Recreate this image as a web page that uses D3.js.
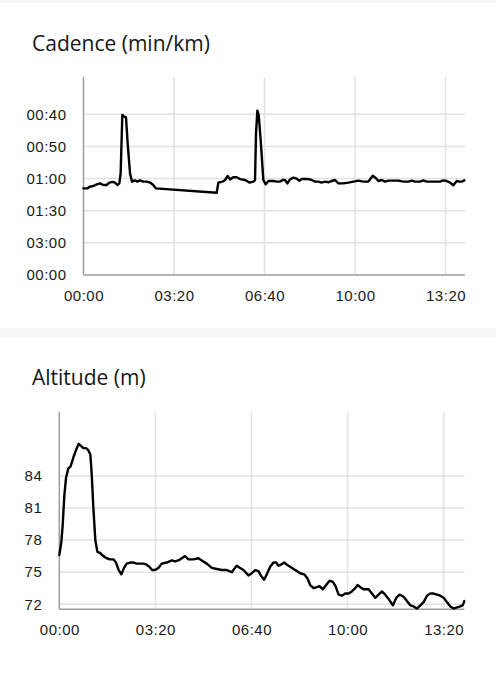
<!DOCTYPE html>
<html>
<head>
<meta charset="utf-8">
<script src="https://cdn.jsdelivr.net/npm/d3@7"></script>
<style>
  html, body { margin: 0; padding: 0; background: #ffffff; }
  svg { display: block; }
</style>
</head>
<body>
<script>
// ---- Data ----
// Cadence chart: time (s) and speed-like value (axis labelled as pace)
const cadenceTime = [0, 8.5, 14.4, 21.7, 29.1, 36.5, 43.8, 51.2, 57.1, 64.5, 69.6, 74.8, 79.2, 82.1, 85.8, 90.2, 93.9, 97.6, 102.8, 107.2, 113.8, 119.0, 124.9, 132.2, 139.6, 147.0, 154.3, 159.5, 294.3, 298.0, 307.6, 312.7, 318.6, 323.8, 331.1, 338.5, 345.9, 356.9, 366.5, 375.3, 379.0, 381.2, 384.2, 387.1, 391.5, 397.4, 402.6, 408.5, 419.5, 426.9, 434.3, 440.2, 445.3, 450.5, 456.4, 463.8, 471.1, 477.0, 482.2, 489.5, 496.9, 504.2, 511.6, 519.0, 526.3, 533.7, 541.1, 548.4, 555.8, 563.2, 574.2, 585.3, 596.4, 607.4, 618.4, 629.5, 639.1, 646.4, 651.6, 659.0, 666.3, 673.7, 684.7, 695.8, 706.8, 717.9, 725.2, 732.6, 743.6, 751.0, 758.4, 773.1, 787.8, 795.2, 802.6, 810.0, 817.3, 824.7, 830.6, 835.7, 841.6];
const cadenceValue = [53.9, 53.9, 55.0, 55.4, 56.4, 57.0, 56.0, 56.0, 57.5, 57.9, 57.5, 56.0, 57.0, 63.3, 99.6, 98.5, 98.1, 81.9, 63.3, 58.1, 58.9, 58.1, 58.9, 58.1, 58.1, 57.5, 56.0, 53.9, 51.2, 57.5, 58.1, 59.1, 61.6, 59.5, 60.8, 60.8, 59.7, 59.1, 57.5, 58.1, 59.1, 88.2, 102.3, 99.6, 84.0, 59.1, 56.4, 58.5, 58.5, 58.1, 58.1, 59.1, 59.1, 57.0, 59.5, 60.6, 59.9, 58.7, 59.7, 59.7, 59.7, 59.1, 58.1, 58.1, 57.5, 58.1, 57.7, 58.5, 59.1, 57.0, 57.0, 57.5, 58.1, 58.7, 58.1, 58.1, 61.8, 60.2, 58.5, 59.1, 58.1, 58.7, 58.7, 58.7, 58.1, 58.1, 58.7, 58.1, 58.1, 58.9, 58.1, 58.1, 58.1, 58.9, 58.5, 57.5, 55.8, 58.5, 58.1, 58.1, 58.9];
const cadenceTicks = [0, 20, 40, 60, 80, 100];
const cadenceTickLabels = ["00:00", "03:00", "01:30", "01:00", "00:50", "00:40"];

// Altitude chart: time (s) and altitude (m)
const altitudeTime = [0, 4.2, 6.9, 10.4, 13.9, 18.8, 23.6, 29.2, 34.7, 40.3, 45.1, 50.0, 55.6, 60.4, 64.6, 67.4, 70.8, 75.0, 79.2, 84.7, 91.7, 98.6, 105.6, 112.5, 118.1, 123.6, 129.2, 134.7, 140.3, 147.2, 154.2, 161.1, 168.1, 175.0, 181.9, 187.5, 193.1, 199.3, 206.3, 213.2, 223.6, 234.0, 241.0, 247.9, 254.9, 261.8, 268.8, 279.2, 289.6, 296.5, 306.9, 317.4, 327.8, 338.2, 348.6, 359.0, 363.9, 369.4, 376.4, 383.3, 393.8, 400.7, 407.6, 414.6, 419.4, 426.4, 431.9, 438.9, 445.8, 451.4, 456.3, 461.1, 468.1, 473.6, 480.6, 487.5, 494.4, 501.4, 509.7, 516.7, 522.2, 529.2, 536.1, 541.7, 548.6, 555.6, 562.5, 569.4, 575.0, 581.3, 588.2, 595.1, 602.1, 609.0, 616.0, 620.8, 626.4, 633.3, 643.8, 650.7, 657.6, 664.6, 671.5, 678.5, 685.4, 694.4, 701.4, 708.3, 716.7, 723.6, 730.6, 737.5, 744.4, 751.4, 758.3, 765.3, 772.2, 779.2, 786.1, 793.1, 800.0, 806.9, 813.9, 820.8, 827.8, 834.7, 839.6, 843.0];
const altitudeValue = [76.6, 77.8, 79.3, 82.1, 83.8, 84.7, 84.9, 85.7, 86.4, 87.0, 86.8, 86.6, 86.6, 86.4, 86.0, 84.2, 81.1, 78.0, 76.9, 76.8, 76.5, 76.3, 76.2, 76.2, 75.9, 75.2, 74.8, 75.4, 75.8, 75.9, 75.9, 75.8, 75.8, 75.8, 75.7, 75.5, 75.2, 75.2, 75.4, 75.8, 75.9, 76.1, 76.0, 76.1, 76.3, 76.5, 76.2, 76.2, 76.3, 76.1, 75.8, 75.4, 75.3, 75.2, 75.2, 75.0, 75.3, 75.6, 75.4, 75.2, 74.7, 74.9, 75.2, 75.1, 74.7, 74.3, 74.8, 75.5, 75.9, 75.9, 75.6, 75.7, 75.9, 75.7, 75.5, 75.3, 75.1, 74.9, 74.8, 74.4, 73.8, 73.5, 73.6, 73.7, 73.4, 73.8, 74.2, 74.1, 73.7, 72.9, 72.8, 73.0, 73.0, 73.2, 73.5, 73.8, 73.6, 73.4, 73.4, 73.0, 72.6, 72.9, 73.2, 72.9, 72.5, 71.9, 72.6, 72.9, 72.7, 72.3, 71.9, 71.8, 71.6, 71.9, 72.2, 72.8, 73.0, 73.0, 72.9, 72.8, 72.6, 72.2, 71.8, 71.6, 71.7, 71.8, 71.9, 72.3];
const altitudeTicks = [72, 75, 78, 81, 84];
const altitudeTickLabels = ["72", "75", "78", "81", "84"];

// Shared time axis
const timeTicks = [0, 200, 400, 600, 800];
const timeTickLabels = ["00:00", "03:20", "06:40", "10:00", "13:20"];
const timeMax = 843;

// ---- Drawing ----
const W = 496, H = 680;
const svg = d3.select("body").append("svg").attr("width", W).attr("height", H);
svg.append("rect").attr("x", 0).attr("y", 0).attr("width", W).attr("height", H).attr("fill", "#ffffff");
svg.append("rect").attr("x", 0).attr("y", 0).attr("width", W).attr("height", 3).attr("fill", "#f7f7f7");
svg.append("rect").attr("x", 0).attr("y", 328).attr("width", W).attr("height", 10).attr("fill", "#f7f7f7");

const GRID = "#e1e1e4", AXIS = "#9c9c9c";
const tickFont = "'Liberation Sans', Arial, sans-serif";

function panel(cfg) {
  const g = svg.append("g");
  g.append("text").attr("x", cfg.titleX).attr("y", cfg.titleY)
    .attr("font-family", "'Open Sans', 'Noto Sans', sans-serif")
    .attr("font-size", 21).attr("fill", "#161616").text(cfg.title);

  const x = d3.scaleLinear().domain([0, timeMax]).range([cfg.left, cfg.right]);
  const y = d3.scaleLinear().domain(cfg.yDomain).range([cfg.bottom, cfg.top]);

  // gridlines
  g.append("g").selectAll("line").data(cfg.yTicks.filter(d => y(d) < cfg.bottom - 2))
    .join("line")
    .attr("x1", cfg.left).attr("x2", cfg.right)
    .attr("y1", d => y(d)).attr("y2", d => y(d))
    .attr("stroke", GRID).attr("stroke-width", 1.5);
  g.append("g").selectAll("line").data(timeTicks.filter(d => d > 0))
    .join("line")
    .attr("x1", d => x(d)).attr("x2", d => x(d))
    .attr("y1", cfg.top).attr("y2", cfg.bottom)
    .attr("stroke", GRID).attr("stroke-width", 1.5);

  // axes
  const yAxis = d3.axisLeft(y).tickValues(cfg.yTicks)
    .tickFormat((d, i) => cfg.yLabels[i]).tickSize(0).tickPadding(cfg.yPad);
  const ya = g.append("g").attr("transform", `translate(${cfg.left},0)`).call(yAxis);
  ya.select(".domain").remove();
  ya.selectAll("text").attr("font-family", tickFont).attr("font-size", 15)
    .attr("letter-spacing", 0.5).attr("fill", "#1a1a1a");

  const xAxis = d3.axisBottom(x).tickValues(timeTicks)
    .tickFormat((d, i) => timeTickLabels[i]).tickSize(0).tickPadding(15);
  const xa = g.append("g").attr("transform", `translate(0,${cfg.bottom})`).call(xAxis);
  xa.select(".domain").remove();
  xa.selectAll("text").attr("font-family", tickFont).attr("font-size", 15)
    .attr("letter-spacing", 0.5).attr("fill", "#1a1a1a");

  g.append("line").attr("x1", cfg.left).attr("x2", cfg.left)
    .attr("y1", cfg.top).attr("y2", cfg.bottom)
    .attr("stroke", AXIS).attr("stroke-width", 1.5);
  g.append("line").attr("x1", cfg.left).attr("x2", cfg.right)
    .attr("y1", cfg.bottom).attr("y2", cfg.bottom)
    .attr("stroke", AXIS).attr("stroke-width", 1.5);

  const line = d3.line().x((d, i) => x(cfg.xs[i])).y(d => y(d)).curve(d3.curveLinear);
  g.append("path").datum(cfg.ys).attr("d", line)
    .attr("fill", "none").attr("stroke", "#000").attr("stroke-width", 2.4)
    .attr("stroke-linejoin", "round").attr("stroke-linecap", "round");
}

panel({
  title: "Cadence (min/km)", titleX: 32, titleY: 51,
  left: 83.5, right: 465, top: 77, bottom: 275,
  yDomain: [0, 123.2], yTicks: cadenceTicks, yLabels: cadenceTickLabels, yPad: 17,
  xs: cadenceTime, ys: cadenceValue
});

panel({
  title: "Altitude (m)", titleX: 32, titleY: 385,
  left: 59.3, right: 464.3, top: 411.7, bottom: 609.3,
  yDomain: [71.53, 90], yTicks: altitudeTicks, yLabels: altitudeTickLabels, yPad: 17,
  xs: altitudeTime, ys: altitudeValue
});
</script>
</body>
</html>
